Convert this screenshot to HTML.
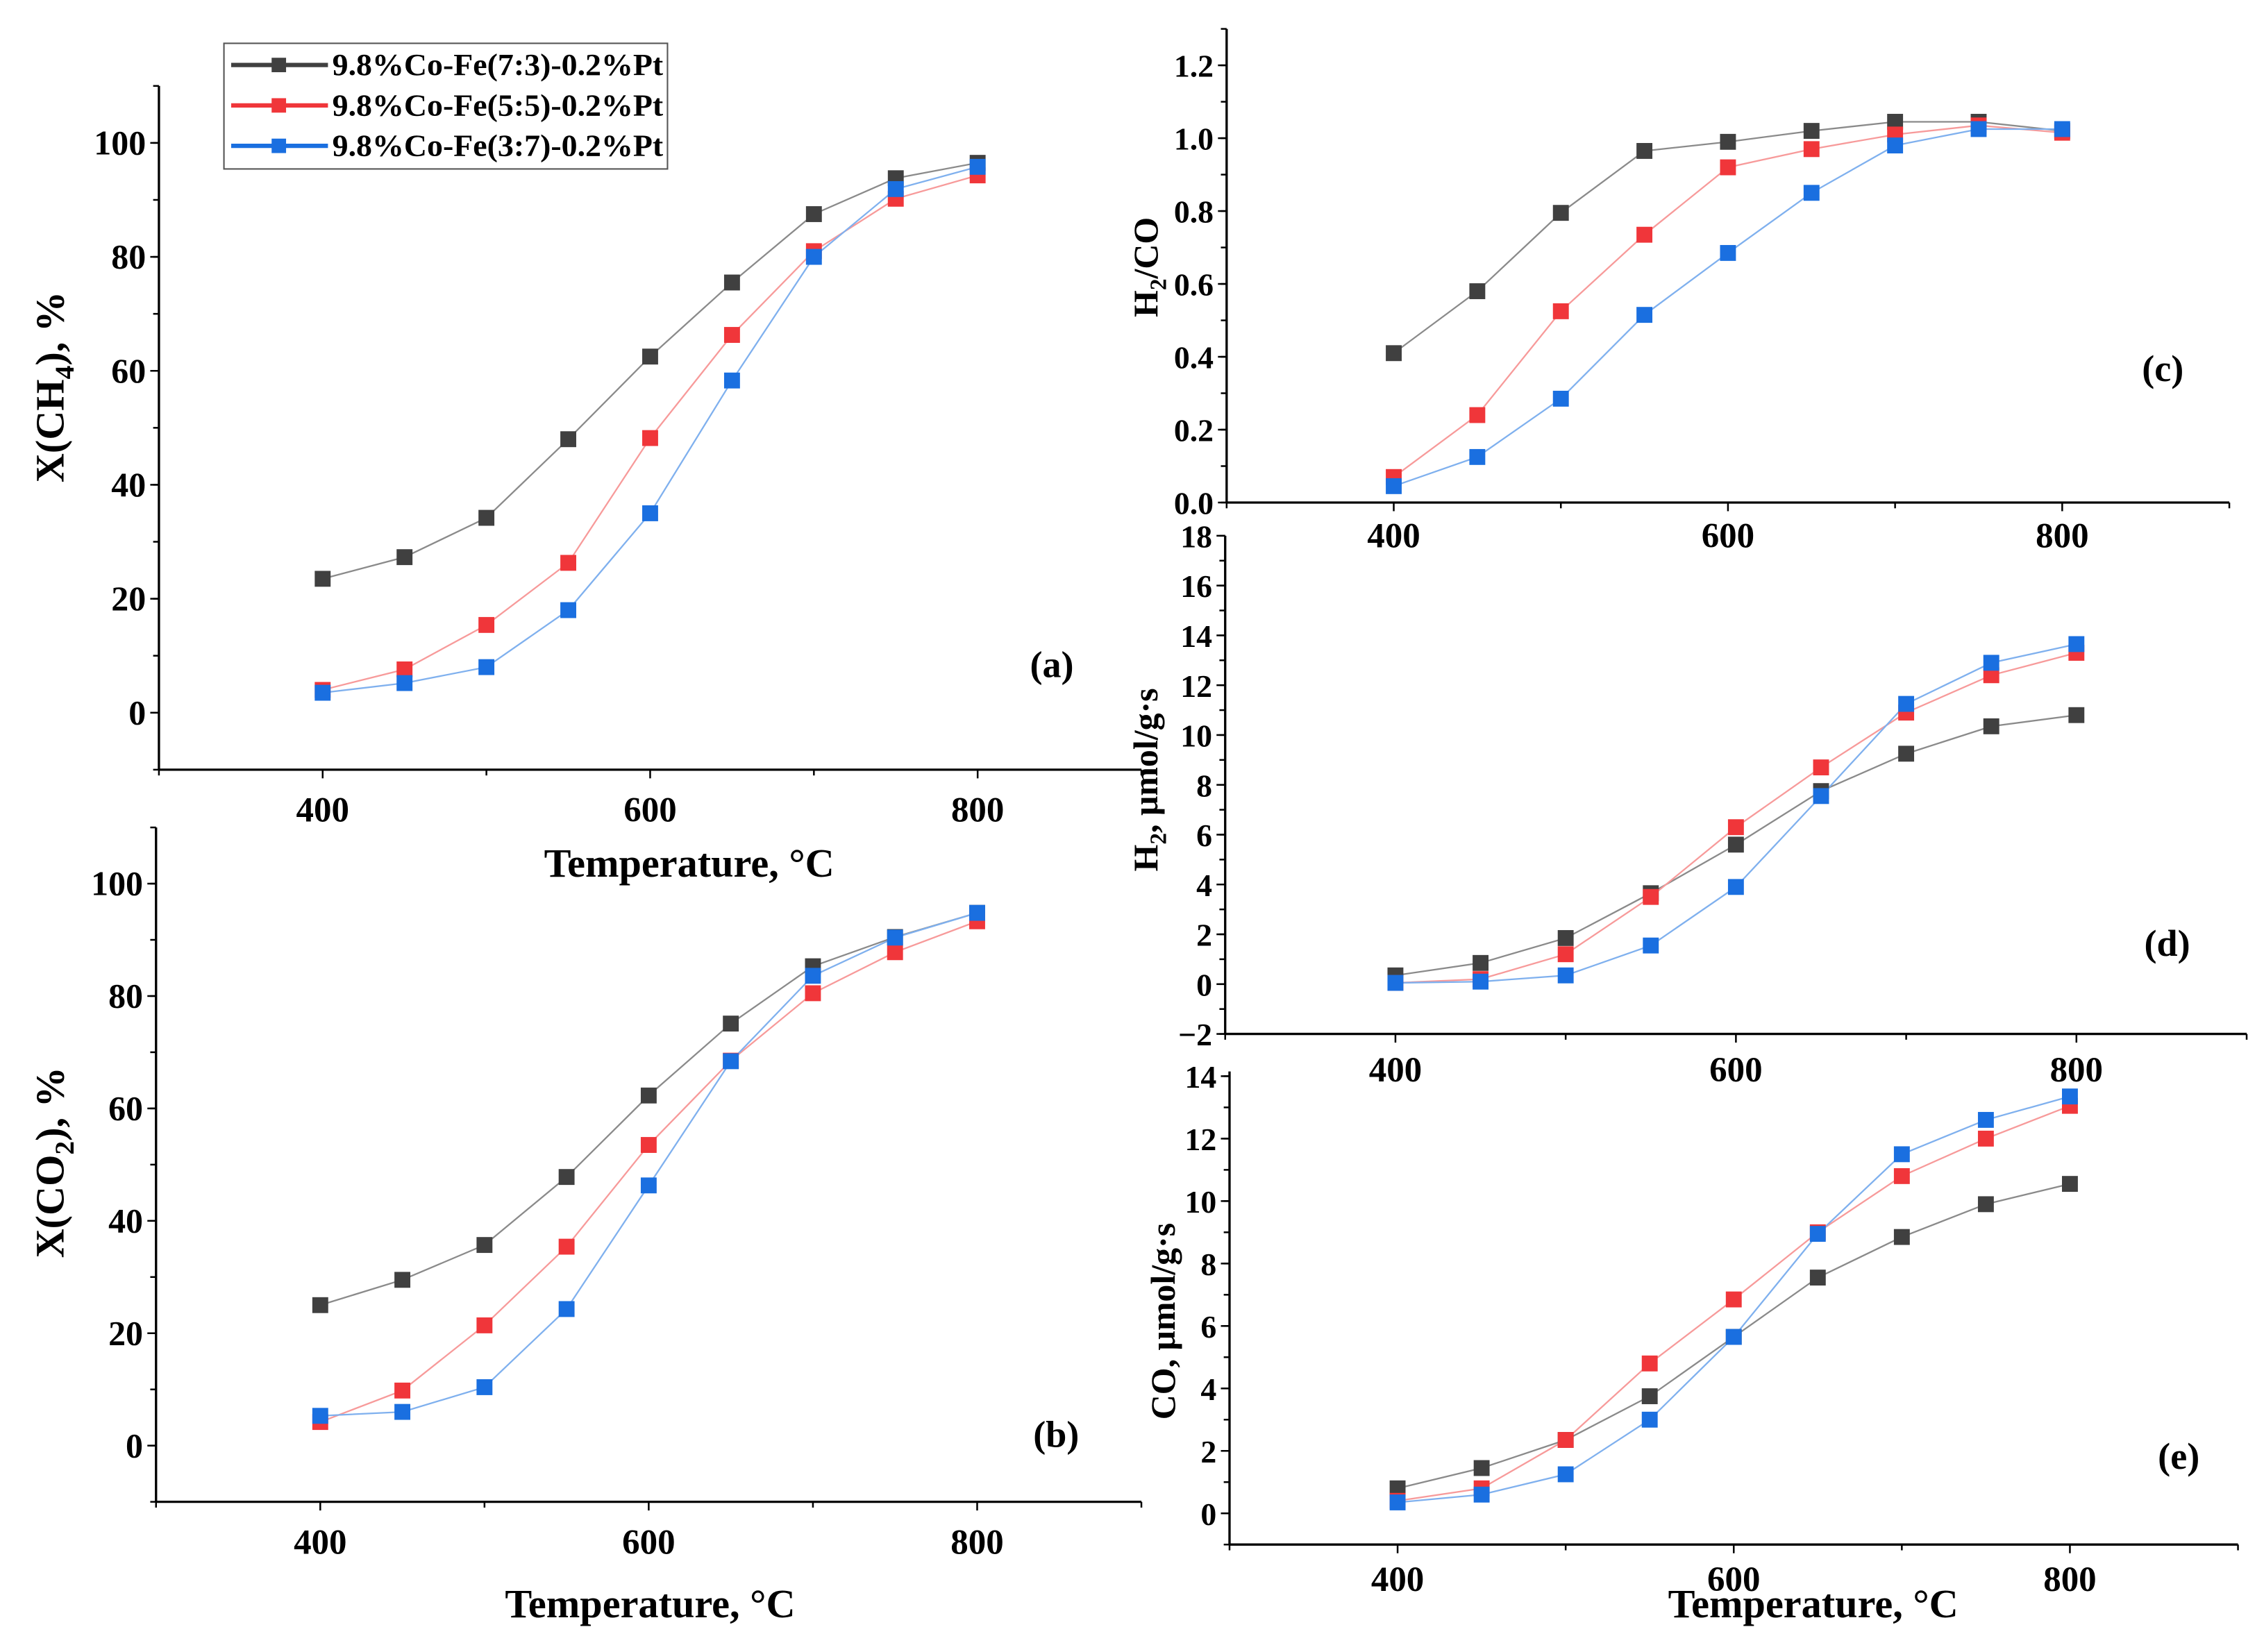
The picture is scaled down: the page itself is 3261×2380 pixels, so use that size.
<!DOCTYPE html>
<html><head><meta charset="utf-8"><style>
html,body{margin:0;padding:0;background:#fff;}
svg{display:block;}
text{font-family:"Liberation Serif",serif;font-weight:bold;fill:#000;}
</style></head><body>
<svg id="chart" width="3261" height="2380" viewBox="0 0 1567 1144" preserveAspectRatio="none" xmlns="http://www.w3.org/2000/svg">
<g id="legend">
<rect x="155" y="30" width="307" height="87" fill="#fff" stroke="#555" stroke-width="1"/>
<g><line x1="160" y1="45" x2="227" y2="45" stroke="#404040" stroke-width="3"/><rect x="188" y="40" width="10" height="10" fill="#404040"/><text x="230" y="52" font-size="21.5" textLength="229" lengthAdjust="spacingAndGlyphs">9.8%Co-Fe(7:3)-0.2%Pt</text></g>
<g><line x1="160" y1="73" x2="227" y2="73" stroke="#f0363a" stroke-width="3"/><rect x="188" y="68" width="10" height="10" fill="#f0363a"/><text x="230" y="80" font-size="21.5" textLength="229" lengthAdjust="spacingAndGlyphs">9.8%Co-Fe(5:5)-0.2%Pt</text></g>
<g><line x1="160" y1="101" x2="227" y2="101" stroke="#1a6fe0" stroke-width="3"/><rect x="188" y="96" width="10" height="10" fill="#1a6fe0"/><text x="230" y="108" font-size="21.5" textLength="229" lengthAdjust="spacingAndGlyphs">9.8%Co-Fe(3:7)-0.2%Pt</text></g>
</g>
</svg>
<script>
const temps = [400,450,500,550,600,650,700,750,800];
const aBlack = [23.5,27.3,34.2,48,62.5,75.5,87.5,93.8,96.5];
const aRed = [4,7.6,15.4,26.3,48.2,66.3,81,90.2,94.3];
const aBlue = [3.5,5.2,8,18,35,58.3,80,91.9,95.8];
const bBlack = [25,29.5,35.7,47.8,62.3,75.1,85.3,90.5,94.8];
const bRed = [4.2,9.8,21.4,35.4,53.5,68.5,80.5,87.8,93.3];
const bBlue = [5.3,6,10.4,24.3,46.3,68.4,83.6,90.4,94.8];
const cBlack = [0.41,0.58,0.795,0.965,0.99,1.02,1.045,1.045,1.02];
const cRed = [0.07,0.24,0.525,0.735,0.92,0.97,1.01,1.035,1.015];
const cBlue = [0.045,0.125,0.285,0.515,0.685,0.85,0.98,1.025,1.025];
const dBlack = [0.35,0.85,1.85,3.65,5.6,7.75,9.25,10.35,10.8];
const dRed = [0.05,0.2,1.2,3.5,6.3,8.7,10.9,12.4,13.3];
const dBlue = [0.05,0.1,0.35,1.55,3.9,7.55,11.25,12.9,13.65];
const eBlack = [0.8,1.45,2.35,3.75,5.65,7.55,8.85,9.9,10.55];
const eRed = [0.4,0.8,2.35,4.8,6.85,9.0,10.8,12.0,13.05];
const eBlue = [0.35,0.6,1.25,3.0,5.65,8.95,11.5,12.6,13.35];
const xTickLabels = [400,600,800];
const aTicks = [0,20,40,60,80,100];
const cTicks = [0.0,0.2,0.4,0.6,0.8,1.0,1.2];
const dTicks = [-2,0,2,4,6,8,10,12,14,16,18];
const eTicks = [0,2,4,6,8,10,12,14];

const NS='http://www.w3.org/2000/svg';
const svg=document.getElementById('chart');
function mk(tag,attrs,parent){const e=document.createElementNS(NS,tag);for(const k in attrs)e.setAttribute(k,attrs[k]);(parent||svg).appendChild(e);return e;}
const colors={black:['#404040','#8a8a8a'],red:['#f0363a','#f79a9a'],blue:['#1a6fe0','#7fb0ee']};

function panel(p){
  const g=mk('g',{});
  
  
  const sx=v=>p.x0+(v-300)/600*(p.x1-p.x0);
  const sy=v=>p.yb+(v-p.ymin)/(p.ymax-p.ymin)*(p.yt-p.yb);
  const ya=mk('line',{x1:p.x0,y1:p.yt,x2:p.x0,y2:p.yb,stroke:'#000','stroke-width':1.6},g);
  
  
  const xa=mk('line',{x1:p.x0,y1:p.yb,x2:p.x1,y2:p.yb,stroke:'#000','stroke-width':1.6},g);
  
  
  for(let v=300;v<=900;v+=100){
    const X=sx(v);const major=(v%200===0);
    mk('line',{x1:X,y1:p.yb,x2:X,y2:p.yb+(major?6:4),stroke:'#000','stroke-width':1.2},g);
  }
  xTickLabels.forEach(v=>{
    const t=mk('text',{x:sx(v),y:p.yb+(p.xlo||36),'font-size':24.5,'text-anchor':'middle'},g);
    t.textContent=v;
    
    
  });
  const st=p.ticks[1]-p.ticks[0];
  for(let v=p.ymin;v<=p.ymax+1e-9;v+=st/2){
    const Y=sy(v);
    mk('line',{x1:p.x0,y1:Y,x2:p.x0-4,y2:Y,stroke:'#000','stroke-width':1.2},g);
  }
  p.ticks.forEach(v=>{
    const Y=sy(v);
    mk('line',{x1:p.x0,y1:Y,x2:p.x0-6,y2:Y,stroke:'#000','stroke-width':1.2},g);
    const t=mk('text',{x:p.x0-9,y:Y+8,'font-size':p.yfs||24,'text-anchor':'end'},g);
    t.textContent=p.fmt?p.fmt(v):(v<0?'\u2212'+(-v):v);
    
    
  });
  p.series.forEach(([name,data])=>{
    const [mc,lc]=colors[name];
    const pts=temps.map((t,i)=>sx(t)+','+sy(data[i])).join(' ');
    const pl=mk('polyline',{points:pts,fill:'none',stroke:lc,'stroke-width':1.1},g);
    
    
  });
  p.series.forEach(([name,data])=>{
    const [mc]=colors[name];
    temps.forEach((t,i)=>{
      const r=mk('rect',{x:sx(t)-5.5,y:sy(data[i])-5.5,width:11,height:11,fill:mc},g);
      
      
    });
  });
  const lb=mk('text',{x:p.lx,y:p.ly,'font-size':26,'text-anchor':'middle'},g);
  lb.textContent='('+p.id+')';
  
  
  const yt=mk('text',{x:0,y:0,'font-size':p.tfs||28,'text-anchor':'middle',transform:'translate('+p.tx+','+p.ty+') rotate(-90)'},g);
  yt.innerHTML=p.title;
  
  
  if(p.xt){
    const xt=mk('text',{x:p.xt[0],y:p.xt[1],'font-size':28,'text-anchor':'middle'},g);
    xt.textContent='Temperature, \u00B0C';
    
    
  }
}
panel({id:'a',x0:110,x1:790,yt:59.5,yb:533,ymin:-10,ymax:110,ticks:aTicks,series:[['black',aBlack],['red',aRed],['blue',aBlue]],lx:728,ly:469,tx:44,ty:268,title:'X(CH<tspan dy="7" font-size="19">4</tspan><tspan dy="-7">), %</tspan>',xt:[477,607]});
panel({id:'b',x0:108,x1:790,yt:573,yb:1040,ymin:-10,ymax:110,ticks:aTicks,series:[['black',bBlack],['red',bRed],['blue',bBlue]],lx:731,ly:1002,tx:44,ty:805,title:'X(CO<tspan dy="7" font-size="19">2</tspan><tspan dy="-7">), %</tspan>',xt:[450,1120]});
panel({id:'c',x0:849,x1:1543,yt:20,yb:348,ymin:0,ymax:1.3,ticks:cTicks,yfs:22,xlo:31,fmt:v=>v.toFixed(1),series:[['black',cBlack],['red',cRed],['blue',cBlue]],lx:1497,ly:264,tx:801,ty:185,tfs:24,title:'H<tspan dy="6" font-size="16">2</tspan><tspan dy="-6">/CO</tspan>'});
panel({id:'d',x0:848,x1:1555,yt:371,yb:716,ymin:-2,ymax:18,ticks:dTicks,yfs:22,xlo:33,series:[['black',dBlack],['red',dRed],['blue',dBlue]],lx:1500,ly:662,tx:801,ty:540,tfs:24,title:'H<tspan dy="6" font-size="16">2</tspan><tspan dy="-6">, μmol/g·s</tspan>'});
panel({id:'e',x0:851,x1:1549,yt:742,yb:1069.6,ymin:-1,ymax:14.15,ticks:eTicks,yfs:22,xlo:32,series:[['black',eBlack],['red',eRed],['blue',eBlue]],lx:1508,ly:1017,tx:813,ty:915,tfs:24,title:'CO, μmol/g·s',xt:[1255,1120]});
svg.appendChild(document.getElementById('legend'));
</script>
</body></html>
